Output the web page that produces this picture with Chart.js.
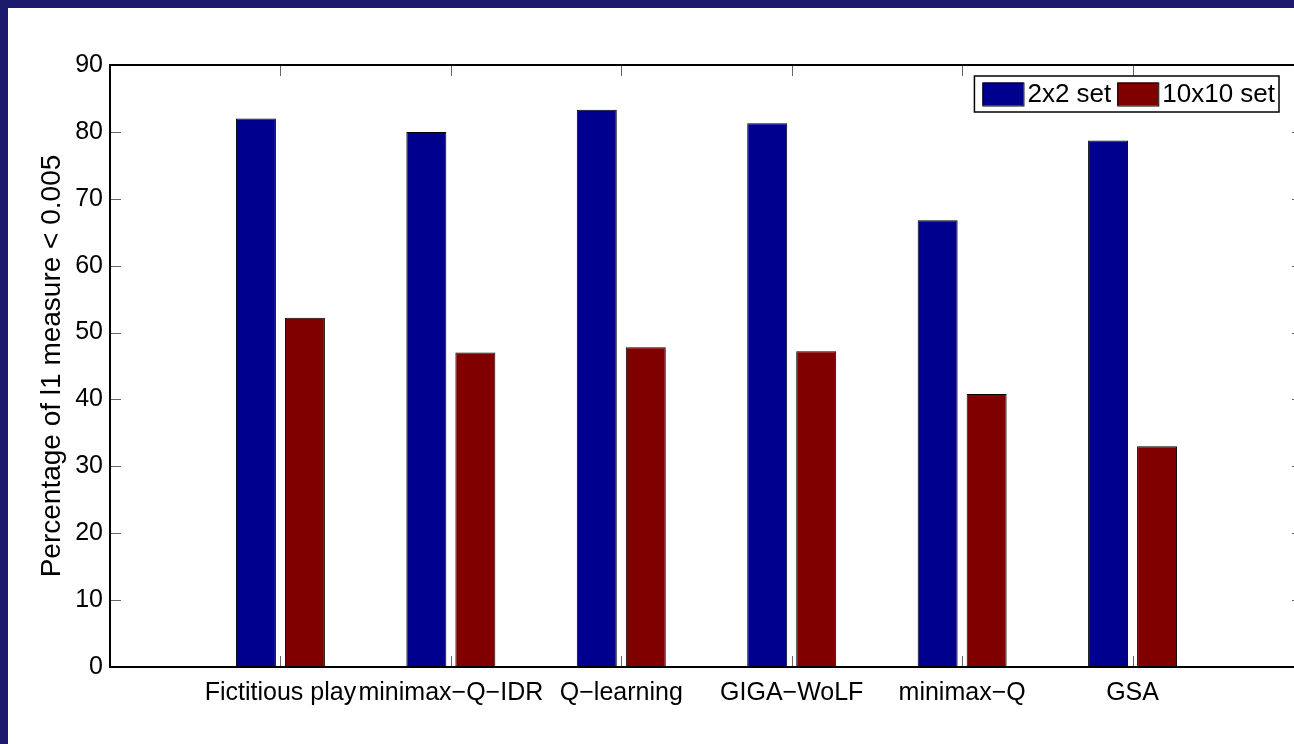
<!DOCTYPE html>
<html>
<head>
<meta charset="utf-8">
<script src="https://cdn.jsdelivr.net/npm/chart.js@4.4.0/dist/chart.umd.min.js"></script>
<style>
  html, body { margin: 0; padding: 0; background: #1c1a6c; overflow: hidden; width: 1294px; height: 744px; }
  #fig { position: absolute; left: 8px; top: 8px; width: 1330px; height: 760px; background: #fff; }
</style>
</head>
<body>
<div id="fig"><canvas id="barChart" width="1330" height="760"></canvas></div>
<script>
const categories = ['Fictitious play', 'minimax\u2212Q\u2212IDR', 'Q\u2212learning', 'GIGA\u2212WoLF', 'minimax\u2212Q', 'GSA'];
const set2x2 = [82.0, 80.0, 83.3, 81.3, 66.8, 78.7];
const set10x10 = [52.2, 47.0, 47.8, 47.2, 40.8, 33.0];
const seriesNames = ['2x2 set', '10x10 set'];
const yLabel = 'Percentage of l1 measure < 0.005';

const FONT = 'Liberation Sans, Arial, Helvetica, sans-serif';

// matlab style: empty slot at 0 and at 7
const labels = ['', ...categories, ''];
const pad = arr => [null, ...arr, null];

// inward ticks on all four sides and the black box
const matlabAxes = {
  id: 'matlabAxes',
  afterDatasetsDraw(chart) {
    const { ctx, chartArea: a, scales: { x, y } } = chart;
    const len = 11;
    ctx.save();
    ctx.strokeStyle = '#666';
    ctx.lineWidth = 1;
    ctx.beginPath();
    y.ticks.forEach(t => {
      const py = Math.round(y.getPixelForValue(t.value)) + 0.5;
      ctx.moveTo(a.left, py); ctx.lineTo(a.left + len, py);
      ctx.moveTo(a.right, py); ctx.lineTo(a.right - len, py);
    });
    categories.forEach((c, i) => {
      const px = Math.round(x.getPixelForValue(i + 1)) + 0.5;
      ctx.moveTo(px, a.bottom); ctx.lineTo(px, a.bottom - len);
      ctx.moveTo(px, a.top); ctx.lineTo(px, a.top + len);
    });
    ctx.stroke();
    ctx.strokeStyle = '#000';
    ctx.lineWidth = 2;
    ctx.strokeRect(a.left, a.top, a.right - a.left, a.bottom - a.top);
    ctx.restore();
  },
  afterDraw(chart) {
    // legend box inside the axes, upper right
    const { ctx, chartArea: a } = chart;
    const sets = chart.data.datasets;
    ctx.save();
    ctx.font = '26px ' + FONT;
    ctx.textBaseline = 'middle';
    const sw = 41, sh = 23;
    let w = 8;
    sets.forEach((d, i) => { w += sw + 4 + ctx.measureText(d.label).width + (i < sets.length - 1 ? 6 : 4); });
    const h = 36;
    const bx = a.right - 24 - w, by = a.top + 11;
    ctx.fillStyle = '#fff';
    ctx.fillRect(bx, by, w, h);
    ctx.strokeStyle = '#000';
    ctx.lineWidth = 1.5;
    ctx.strokeRect(bx, by, w, h);
    let cx = bx + 8;
    sets.forEach((d, i) => {
      ctx.fillStyle = d.backgroundColor;
      ctx.fillRect(cx, by + (h - sh) / 2, sw, sh);
      ctx.strokeStyle = '#000';
      ctx.lineWidth = 1;
      ctx.strokeRect(cx + 0.5, by + (h - sh) / 2 + 0.5, sw, sh);
      cx += sw + 4;
      ctx.fillStyle = '#000';
      ctx.fillText(d.label, cx, by + h / 2 + 1);
      cx += ctx.measureText(d.label).width + 6;
    });
    ctx.restore();
  }
};

const ctx = document.getElementById('barChart').getContext('2d');
new Chart(ctx, {
  type: 'bar',
  data: {
    labels: labels,
    datasets: [
      {
        label: seriesNames[0],
        data: pad(set2x2),
        backgroundColor: '#00008f',
        borderColor: '#000',
        borderWidth: 1
      },
      {
        label: seriesNames[1],
        data: pad(set10x10),
        backgroundColor: '#800000',
        borderColor: '#000',
        borderWidth: 1
      }
    ]
  },
  options: {
    responsive: false,
    animation: false,
    events: [],
    categoryPercentage: 0.575,
    barPercentage: 0.816,
    layout: { padding: { top: 57, right: 35, bottom: 41, left: 0 } },
    scales: {
      x: {
        offset: false,
        grid: { display: false, offset: false },
        border: { display: false },
        ticks: {
          color: '#000',
          font: { family: FONT, size: 25 },
          padding: 3,
          maxRotation: 0,
          autoSkip: false
        },
        afterFit: s => { s.height = 60; }
      },
      y: {
        min: 0,
        max: 90,
        grid: { display: false, drawTicks: false },
        border: { display: false },
        ticks: {
          stepSize: 10,
          color: '#000',
          font: { family: FONT, size: 25 },
          padding: 7
        },
        title: {
          display: true,
          text: yLabel,
          color: '#000',
          font: { family: FONT, size: 28 },
          padding: { top: 27, bottom: 0 }
        },
        afterFit: s => { s.width = 102; }
      }
    },
    plugins: {
      legend: { display: false },
      tooltip: { enabled: false }
    }
  },
  plugins: [matlabAxes]
});
</script>
</body>
</html>
